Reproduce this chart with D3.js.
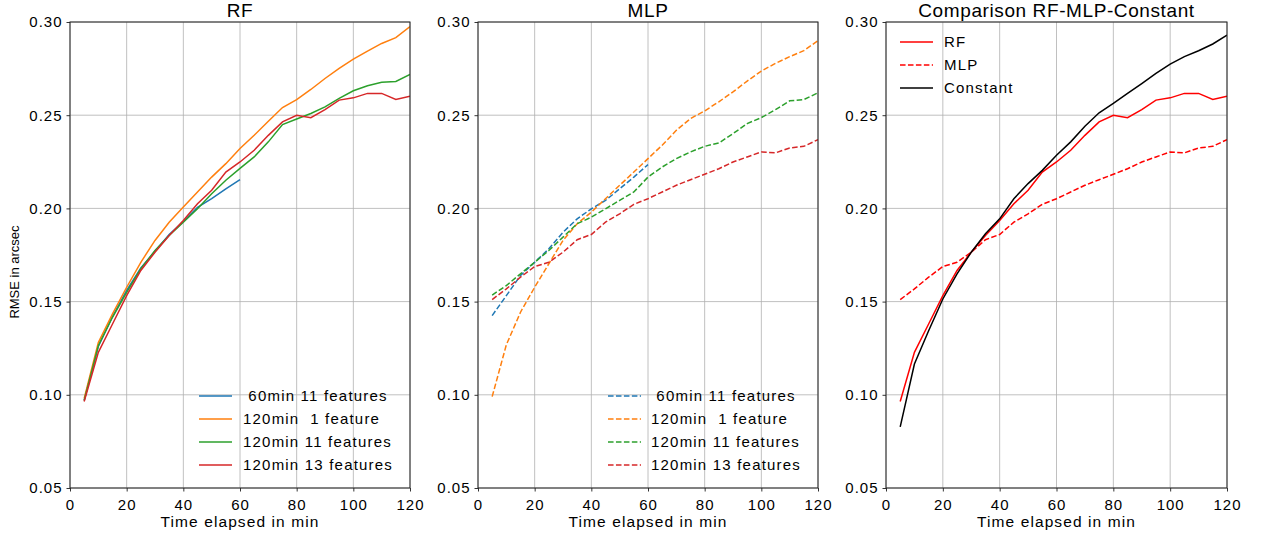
<!DOCTYPE html>
<html>
<head>
<meta charset="utf-8">
<script src="https://cdn.jsdelivr.net/npm/d3@7"></script>
<style>
  body { margin: 0; background: #fff; }
  svg text { font-family: "Liberation Sans", Arial, sans-serif; fill: #000; white-space: pre; }
</style>
</head>
<body>
<svg id="chart" width="1261" height="535"></svg>
<script>
const times = [5,10,15,20,25,30,35,40,45,50,55,60,65,70,75,80,85,90,95,100,105,110,115,120];
const times60 = times.slice(0, 12);

// RF panel
const rf60_11   = [0.097,0.126,0.142,0.156,0.168,0.177,0.186,0.193,0.2005,0.2052,0.2105,0.2154];
const rf120_1   = [0.098,0.128,0.1434,0.1577,0.1711,0.1828,0.1926,0.2007,0.2088,0.2168,0.224,0.2321,0.2392,0.2468,0.2541,0.2584,0.2638,0.2697,0.2751,0.2801,0.2844,0.2885,0.2916,0.2975];
const rf120_11  = [0.097,0.1263,0.1416,0.155,0.1676,0.1774,0.1855,0.1926,0.1998,0.2079,0.2151,0.2215,0.2276,0.2357,0.245,0.248,0.2509,0.2545,0.259,0.2631,0.2658,0.2677,0.2681,0.2719];
const rf120_13  = [0.0964,0.1228,0.1380,0.1532,0.1667,0.1765,0.1855,0.1935,0.2025,0.2097,0.2195,0.2249,0.2312,0.2392,0.2464,0.250,0.2487,0.253,0.2581,0.2593,0.2617,0.2617,0.2584,0.2602];

// MLP panel
const mlp60_11  = [0.1425,0.1532,0.164,0.1711,0.1783,0.1872,0.1944,0.1998,0.2043,0.2105,0.2168,0.2235];
const mlp120_1  = [0.099,0.1268,0.1443,0.1577,0.1703,0.1828,0.1918,0.198,0.2052,0.2124,0.2195,0.2267,0.2339,0.2419,0.2482,0.2523,0.2572,0.2625,0.2683,0.2737,0.2778,0.2814,0.2846,0.290];
const mlp120_11 = [0.1535,0.1586,0.1649,0.1711,0.1774,0.1846,0.1918,0.1953,0.1998,0.2043,0.2088,0.2168,0.2222,0.2267,0.2303,0.2333,0.2351,0.2401,0.2455,0.2487,0.253,0.2577,0.2584,0.262];
const mlp120_13 = [0.1511,0.1568,0.1631,0.1688,0.1711,0.1765,0.1832,0.186,0.1926,0.1971,0.2022,0.2052,0.2088,0.2124,0.2154,0.2183,0.2213,0.2249,0.2276,0.2303,0.2298,0.2324,0.2333,0.2369];

// Comparison panel
const constant  = [0.0828,0.1165,0.1344,0.1514,0.1649,0.1765,0.1864,0.1944,0.2052,0.2133,0.2204,0.2285,0.2357,0.2441,0.2513,0.2563,0.2617,0.267,0.2724,0.2774,0.2814,0.2846,0.2882,0.293];

const xTicks = [0,20,40,60,80,100,120];
const yTicks = [0.05,0.10,0.15,0.20,0.25,0.30];
const titles = ["RF", "MLP", "Comparison RF-MLP-Constant"];
const xLabel = "Time elapsed in min";
const yLabel = "RMSE in arcsec";

const tab = ["#1f77b4", "#ff7f0e", "#2ca02c", "#d62728"];
const dash = "5.55,2.4";

const panels = [
  { left: 70, right: 410, title: titles[0],
    series: [
      { name: " 60min 11 features", x: times60, y: rf60_11, color: tab[0] },
      { name: "120min  1 feature", x: times, y: rf120_1, color: tab[1] },
      { name: "120min 11 features", x: times, y: rf120_11, color: tab[2] },
      { name: "120min 13 features", x: times, y: rf120_13, color: tab[3] }
    ],
    legend: { x: 199, y: 396, textX: 243 } },
  { left: 478, right: 818, title: titles[1],
    series: [
      { name: " 60min 11 features", x: times60, y: mlp60_11, color: tab[0], dash: dash },
      { name: "120min  1 feature", x: times, y: mlp120_1, color: tab[1], dash: dash },
      { name: "120min 11 features", x: times, y: mlp120_11, color: tab[2], dash: dash },
      { name: "120min 13 features", x: times, y: mlp120_13, color: tab[3], dash: dash }
    ],
    legend: { x: 608, y: 396, textX: 651 } },
  { left: 886, right: 1227, title: titles[2],
    series: [
      { name: "RF", x: times, y: rf120_13, color: "#ff0000" },
      { name: "MLP", x: times, y: mlp120_13, color: "#ff0000", dash: dash },
      { name: "Constant", x: times, y: constant, color: "#000000" }
    ],
    legend: { x: 900, y: 42, textX: 944 } }
];

const svg = d3.select("#chart");
const plotTop = 22, plotBottom = 488;

panels.forEach((p, pi) => {
  const x = d3.scaleLinear().domain([0, 120]).range([p.left, p.right]);
  const y = d3.scaleLinear().domain([0.05, 0.30]).range([plotBottom, plotTop]);
  const g = svg.append("g");

  // grid
  g.append("g").selectAll("line").data(xTicks).join("line")
    .attr("x1", d => x(d)).attr("x2", d => x(d)).attr("y1", plotTop).attr("y2", plotBottom)
    .attr("stroke", "#b0b0b0").attr("stroke-width", 0.8);
  g.append("g").selectAll("line").data(yTicks).join("line")
    .attr("y1", d => y(d)).attr("y2", d => y(d)).attr("x1", p.left).attr("x2", p.right)
    .attr("stroke", "#b0b0b0").attr("stroke-width", 0.8);

  // lines
  const clipId = "clip" + pi;
  svg.append("clipPath").attr("id", clipId).append("rect")
    .attr("x", p.left).attr("y", plotTop).attr("width", p.right - p.left).attr("height", plotBottom - plotTop);
  const lg = g.append("g").attr("clip-path", `url(#${clipId})`);
  p.series.forEach(s => {
    const line = d3.line().x((d, i) => x(s.x[i])).y(d => y(d));
    lg.append("path").datum(s.y).attr("d", line)
      .attr("fill", "none").attr("stroke", s.color).attr("stroke-width", 1.5)
      .attr("stroke-dasharray", s.dash || null);
  });

  // axes
  const xa = g.append("g").attr("transform", `translate(0,${plotBottom})`)
    .call(d3.axisBottom(x).tickValues(xTicks).tickSize(3.5).tickPadding(4).tickFormat(d3.format("d")));
  const ya = g.append("g").attr("transform", `translate(${p.left},0)`)
    .call(d3.axisLeft(y).tickValues(yTicks).tickSize(3.5).tickPadding(4).tickFormat(d3.format(".2f")));
  [xa, ya].forEach(a => {
    a.select(".domain").remove();
    a.selectAll("line").attr("stroke", "#000").attr("stroke-width", 0.8);
    a.selectAll("text").attr("font-size", 15).attr("letter-spacing", "1px")
      .attr("font-family", "'Liberation Sans', Arial, sans-serif").attr("fill", "#111");
  });
  xa.selectAll("text").attr("dy", "0.95em");

  // frame
  g.append("rect").attr("x", p.left).attr("y", plotTop).attr("width", p.right - p.left)
    .attr("height", plotBottom - plotTop).attr("fill", "none").attr("stroke", "#222").attr("stroke-width", 1);

  // title
  g.append("text").attr("x", (p.left + p.right) / 2).attr("y", 17)
    .attr("text-anchor", "middle").attr("font-size", 19).attr("letter-spacing", "0.6px")
    .text(p.title);

  // x label
  g.append("text").attr("x", (p.left + p.right) / 2).attr("y", 527)
    .attr("text-anchor", "middle").attr("font-size", 15.5).attr("letter-spacing", "1.1px")
    .attr("fill", "#111").text(xLabel);

  // legend
  p.series.forEach((s, i) => {
    const ly = p.legend.y + i * 23;
    g.append("line").attr("x1", p.legend.x).attr("x2", p.legend.x + 33)
      .attr("y1", ly).attr("y2", ly).attr("stroke", s.color).attr("stroke-width", 1.5)
      .attr("stroke-dasharray", s.dash || null);
    g.append("text").attr("x", p.legend.textX).attr("y", ly).attr("dy", "0.35em")
      .attr("font-size", 15).attr("letter-spacing", "1.2px").attr("fill", "#111")
      .text(s.name);
  });
});

// y label
svg.append("text").attr("transform", "translate(19,272) rotate(-90)")
  .attr("text-anchor", "middle").attr("font-size", 13).attr("fill", "#111")
  .text(yLabel);
</script>
</body>
</html>
